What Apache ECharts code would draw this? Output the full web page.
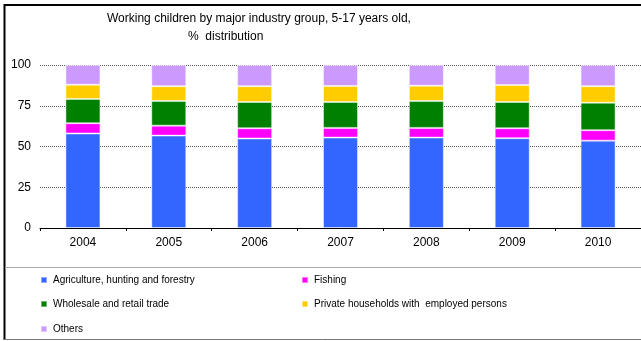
<!DOCTYPE html>
<html>
<head>
<meta charset="utf-8">
<script src="https://cdn.jsdelivr.net/npm/echarts@6/dist/echarts.min.js"></script>
<style>
  html, body { margin: 0; padding: 0; background: #fff; }
  #chart { width: 641px; height: 341px; }
</style>
</head>
<body>
<div id="chart"></div>
<script>
const years = ['2004', '2005', '2006', '2007', '2008', '2009', '2010']
const agriculture = [58.0, 56.7, 54.9, 55.5, 55.5, 55.1, 53.6]
const fishing = [6.3, 6.1, 6.3, 5.9, 5.9, 6.1, 6.4]
const wholesale = [14.9, 15.1, 16.1, 15.9, 16.5, 16.1, 16.9]
const households = [8.7, 9.1, 9.7, 9.8, 9.4, 10.4, 10.1]
const others = [12.1, 13.0, 13.0, 12.9, 12.7, 12.3, 13.0]
const yTicks = [0, 25, 50, 75, 100]

const seriesDefs = [
  { name: 'Agriculture, hunting and forestry', data: agriculture, color: '#3366ff' },
  { name: 'Fishing', data: fishing, color: '#ff00ff' },
  { name: 'Wholesale and retail trade', data: wholesale, color: '#008000' },
  { name: 'Private households with  employed persons', data: households, color: '#ffcc00' },
  { name: 'Others', data: others, color: '#cc99ff' },
]

// legend slots: [left, top] for each series
const legendPos = [[40, 275], [301, 275], [40, 299], [301, 299], [40, 324]]

const font = 'Liberation Sans, Arial, sans-serif'
const chart = echarts.init(document.getElementById('chart'))

chart.setOption({
  animation: false,
  backgroundColor: '#fff',
  textStyle: { fontFamily: font },
  title: [
    {
      text: 'Working children by major industry group, 5-17 years old,',
      left: 102, top: 8,
      textStyle: { fontSize: 12, fontWeight: 'normal', color: '#000', fontFamily: font },
    },
    {
      text: '%  distribution',
      left: 183, top: 26,
      textStyle: { fontSize: 12, fontWeight: 'normal', color: '#000', fontFamily: font },
    },
  ],
  legend: seriesDefs.map((s, i) => ({
    data: [s.name],
    left: legendPos[i][0],
    top: legendPos[i][1],
    icon: 'rect',
    itemWidth: 6,
    itemHeight: 6,
    padding: 0,
    itemGap: 0,
    selectedMode: false,
    textStyle: { fontSize: 10, color: '#000', fontFamily: font, padding: [0, 0, 0, 1] },
  })),
  grid: { left: 40, right: -4, top: 65, bottom: 113 },
  xAxis: {
    type: 'category',
    data: years,
    axisLine: { lineStyle: { color: '#000', width: 1 } },
    axisTick: { show: true, length: 3, lineStyle: { color: '#000' } },
    axisLabel: { color: '#000', fontSize: 12, margin: 9, fontFamily: font },
  },
  yAxis: {
    type: 'value',
    min: yTicks[0],
    max: yTicks[yTicks.length - 1],
    interval: 25,
    axisLine: { show: false },
    axisTick: { show: false },
    axisLabel: { color: '#000', fontSize: 12, margin: 9, fontFamily: font },
    splitLine: { lineStyle: { color: '#555', type: [1, 1], width: 1 } },
  },
  series: seriesDefs.map((s) => ({
    name: s.name,
    type: 'bar',
    stack: 'total',
    barWidth: 35,
    data: s.data,
    itemStyle: { color: s.color, borderColor: 'rgba(255,255,255,0.45)', borderWidth: 1 },
  })),
  graphic: [
    { type: 'line', shape: { x1: 4.5, y1: 5, x2: 641, y2: 5 }, style: { stroke: '#000', lineWidth: 2 } },
    { type: 'line', shape: { x1: 4.5, y1: 4, x2: 4.5, y2: 340 }, style: { stroke: '#000', lineWidth: 2 } },
    { type: 'line', shape: { x1: 4, y1: 339.5, x2: 641, y2: 339.5 }, style: { stroke: '#777', lineWidth: 1 } },
    { type: 'line', shape: { x1: 5, y1: 267.5, x2: 641, y2: 267.5 }, style: { stroke: '#aaa', lineWidth: 1 } },
  ],
})
</script>
</body>
</html>
